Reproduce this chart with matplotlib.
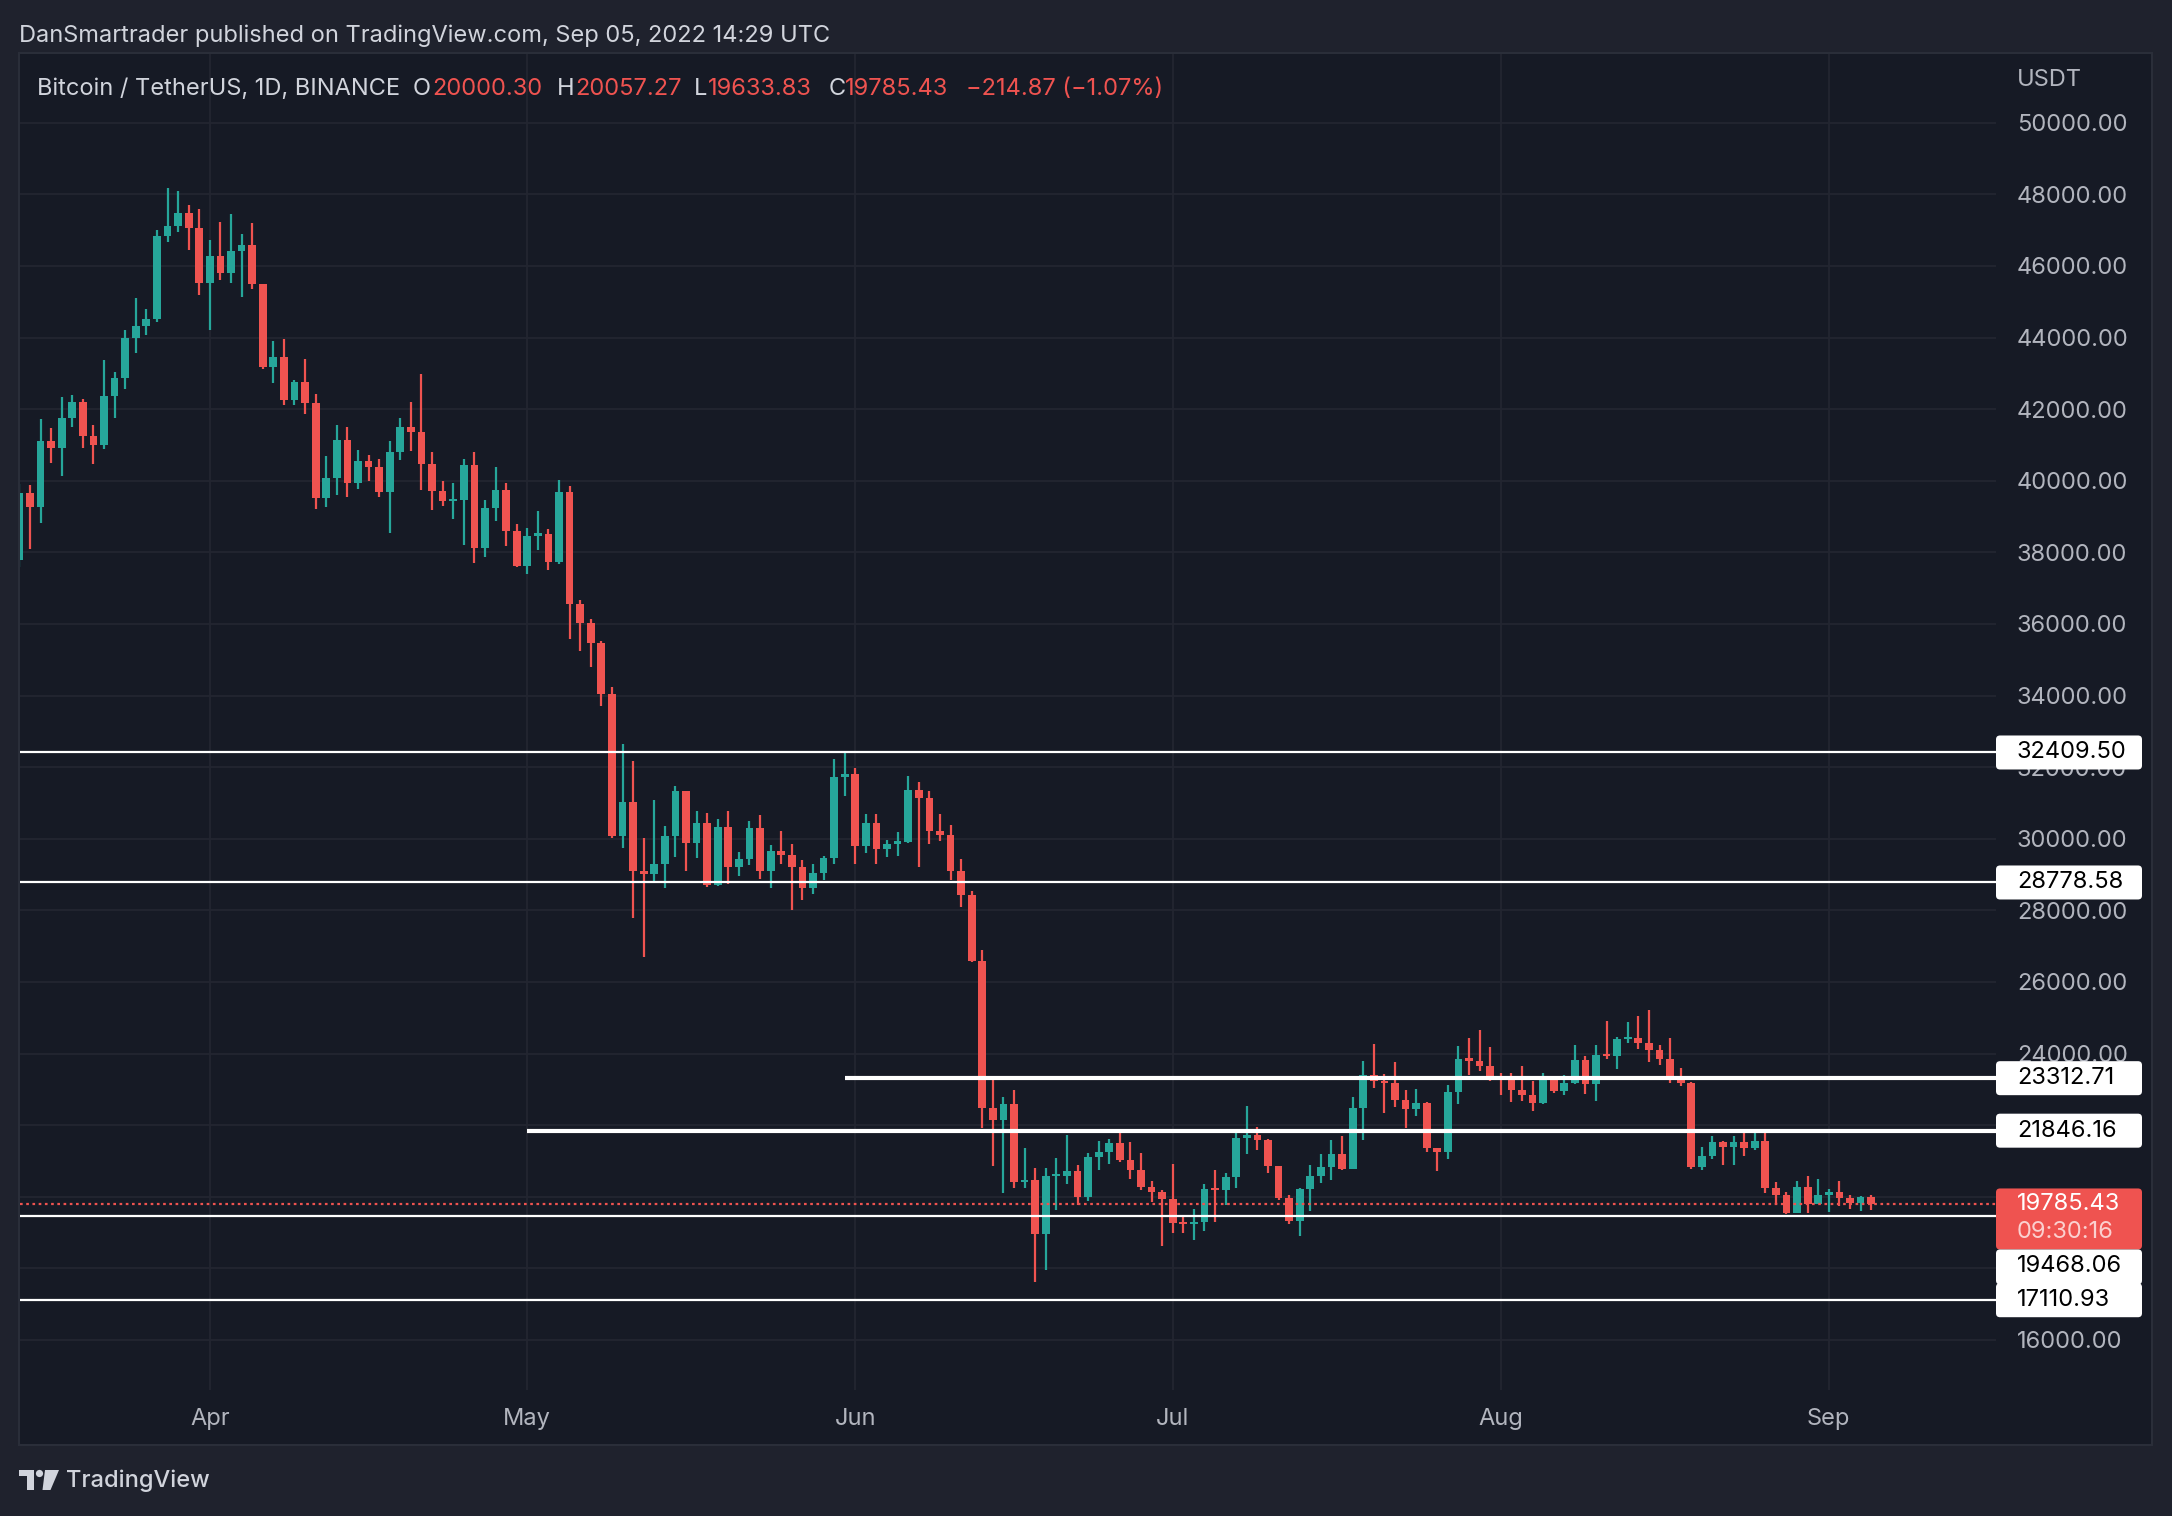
import numpy as np
import pandas as pd
import matplotlib
matplotlib.use('Agg')
import matplotlib.pyplot as plt
import matplotlib.dates as mdates
from matplotlib.patches import Rectangle, FancyBboxPatch, Polygon, Circle

plt.rcParams['font.family'] = ['Inter', 'DejaVu Sans']

# BTC/USDT daily candles, Binance, 2022-03-14 .. 2022-09-05
dates = pd.date_range('2022-03-14', '2022-09-05', freq='D')

first_open = 37777.0
closes = [
    # Mar 14-31
    39671, 39280, 41115, 40917, 41757, 42201, 41262, 41002, 42364, 42882, 43991, 44313, 44511, 46827, 47128, 47465, 47062, 45510,
    # Apr
    46283, 45811, 46407, 46580, 45497, 43170, 43444, 42252, 42753, 42158, 39530, 40074, 41147, 39942, 40552, 40378, 39678, 40801,
    41493, 41358, 40480, 39709, 39441, 39450, 40426, 38112, 39235, 39742, 38596, 37630,
    # May
    38468, 38525, 37729, 39690, 36552, 36013, 35472, 34038, 30076, 31017, 29103, 29029, 29287, 30086, 31329, 29874, 30444, 28715,
    30319, 29201, 29445, 30293, 29109, 29655, 29542, 29201, 28629, 29031, 29468, 31734, 31801,
    # Jun
    29805, 30452, 29700, 29864, 29920, 31373, 31125, 30205, 30110, 29091, 28425, 26575, 22487, 22136, 22584, 20401, 20468, 18970,
    20574, 20574, 20720, 19987, 21110, 21237, 21492, 21038, 20742, 20281, 20123, 19942,
    # Jul
    19279, 19243, 19297, 20231, 20190, 20548, 21637, 21731, 21592, 20862, 19970, 19329, 20212, 20569, 20836, 21190, 20779, 22485,
    23389, 23231, 23164, 22714, 22465, 22609, 21361, 21239, 22930, 23843, 23804, 23656, 23336,
    # Aug
    23314, 22978, 22846, 22630, 23289, 22961, 23175, 23810, 23149, 23954, 23934, 24403, 24441, 24305, 24094, 23854, 23342, 23191,
    20834, 21140, 21516, 21399, 21529, 21368, 21560, 20241, 20037, 19555, 20285, 19811, 20050,
    # Sep 1-5
    20127, 19952, 19832, 20000.30, 19785.43,
]
highs = [
    39914, 39887, 41718, 41478, 42325, 42400, 42296, 41544, 43361, 43025, 44220, 45094, 44792, 46999, 48189, 48096, 47700, 47600,
    46720, 47213, 47444, 46890, 47200, 45507, 43900, 43970, 42800, 43410, 42414, 40699, 41561, 41500, 40870, 40709, 40595, 41116,
    41760, 42199, 42976, 40795, 39980, 39940, 40617, 40797, 39474, 40372, 39925, 38795,
    38675, 39167, 38651, 40023, 39845, 36675, 36146, 35514, 34243, 32658, 32162, 30033, 31083, 30343, 31460, 31329, 30788, 30709,
    30545, 30777, 29625, 30487, 30670, 29835, 30223, 29850, 29396, 29300, 29530, 32222, 32399,
    31982, 30690, 30699, 29955, 30189, 31765, 31589, 31327, 30700, 30384, 29440, 28544, 26883, 23363, 22800, 22981, 21365, 20792,
    20815, 21090, 21723, 20900, 21233, 21558, 21614, 21868, 21539, 21212, 20432, 20179,
    20918, 19467, 19649, 20354, 20758, 20675, 21838, 22527, 21955, 21607, 20868, 20046, 20259, 20880, 21200, 21588, 21684, 22777,
    23800, 24276, 23440, 23757, 22977, 23014, 22660, 21361, 23112, 24199, 24442, 24668, 24194,
    23464, 23457, 23647, 23223, 23466, 23354, 23400, 24245, 23933, 24226, 24918, 24456, 24888, 25047, 25211, 24247, 24446, 23600,
    23203, 21382, 21700, 21548, 21684, 21900, 21819, 21886, 20402, 20142, 20433, 20580, 20490,
    20208, 20445, 20054, 20026, 20057.27,
]
lows = [
    37603, 38098, 38828, 40500, 40135, 41499, 40911, 40467, 40875, 41751, 42560, 43579, 44072, 44422, 46663, 46950, 46445, 45200,
    44200, 45620, 45530, 45118, 45353, 43121, 42727, 42107, 42125, 41868, 39200, 39254, 39588, 39551, 39766, 39991, 39546, 38536,
    40571, 40820, 39751, 39177, 39285, 38929, 38200, 37702, 37881, 38881, 38175, 37578,
    37386, 38052, 37517, 37670, 35571, 35258, 34785, 33713, 30033, 29731, 27785, 26700, 28751, 28630, 29480, 29087, 29450, 28654,
    28691, 28730, 28948, 29255, 28866, 28627, 29294, 28019, 28282, 28450, 28839, 29299, 31200,
    29301, 29594, 29282, 29485, 29531, 29890, 29218, 29843, 29944, 28850, 28099, 26560, 21925, 20846, 20111, 20232, 20246, 17622,
    17960, 19637, 20348, 19771, 19890, 20740, 20906, 20960, 20510, 20202, 19854, 18626,
    18975, 18977, 18781, 19055, 19305, 19761, 20257, 21189, 21320, 20655, 19901, 19239, 18910, 19616, 20384, 20478, 20751, 20763,
    21579, 23050, 22341, 22500, 21934, 22257, 21250, 20706, 21042, 22582, 23414, 23502, 23227,
    22850, 22654, 22681, 22400, 22586, 22909, 22844, 23154, 22865, 22664, 23852, 23580, 24291, 24138, 23773, 23671, 23180, 23108,
    20783, 20761, 21069, 20890, 20890, 21145, 21310, 20107, 19800, 19521, 19550, 19540, 19797,
    19565, 19754, 19655, 19600, 19633.83,
]
opens = [first_open] + closes[:-1]

# horizontal levels drawn by the author
levels = [32409.50, 28778.58, 23312.71, 21846.16, 19468.06, 17110.93]
level_start = [None, None, '2022-05-31', '2022-05-01', None, None]
level_thick = [False, False, True, True, False, False]

price_ticks = list(range(16000, 50001, 2000))
covered_ticks = [18000, 20000, 22000]   # hidden behind the price boxes
month_ticks = pd.date_range('2022-04-01', '2022-09-01', freq='MS')

UP, DOWN = '#26a69a', '#ef5350'
BG, FRAME, GRID = '#161a25', '#1f222d', '#232631'
TXT, TXT2 = '#b2b5be', '#d1d4dc'
FS = 17

W, H = 2172, 1516
fig = plt.figure(figsize=(W / 100, H / 100), dpi=100)
fig.patch.set_facecolor(FRAME)

# background panel
bg = fig.add_axes([0, 0, 1, 1], zorder=0)
bg.set_xlim(0, W)
bg.set_ylim(H, 0)
bg.axis('off')
bg.add_patch(Rectangle((19, 53), 2133, 1392, facecolor=BG, edgecolor='#2a2e39', lw=1.5))

ax = fig.add_axes([20 / W, 1 - 1390 / H, 1976 / W, 1336 / H], zorder=1)
ax.set_facecolor(BG)
for s in ax.spines.values():
    s.set_visible(False)

x = mdates.date2num(dates)
o = np.array(opens, float)
c = np.array(closes, float)
hi = np.array(highs, float)
lo = np.array(lows, float)
cols = np.where(c >= o, UP, DOWN)

ax.vlines(x, lo, hi, colors=cols, lw=1.6, zorder=2)
ax.bar(x, np.maximum(np.abs(c - o), 60), bottom=np.minimum(o, c), width=0.73,
       color=cols, linewidth=0, zorder=3)

apr1 = mdates.date2num(pd.Timestamp('2022-04-01'))
ax.set_xlim(apr1 - 17.94, apr1 + 168.8)
ax.set_ylim(14603, 51919)

# levels
for lv, st, thick in zip(levels, level_start, level_thick):
    lw = 3.0 if thick else 1.6
    if st is None:
        ax.axhline(lv, color='white', lw=lw, zorder=4)
    else:
        ax.hlines(lv, mdates.date2num(pd.Timestamp(st)), ax.get_xlim()[1], color='white', lw=lw, zorder=4)

ax.axhline(c[-1], color=DOWN, lw=1.6, ls=(0, (1.2, 1.6)), zorder=4)

# axes / grid
ax.set_yticks(price_ticks)
ax.yaxis.tick_right()
ax.yaxis.set_major_formatter(matplotlib.ticker.FuncFormatter(
    lambda v, p: '' if round(v) in covered_ticks else f'{v:.2f}'))
ax.tick_params(axis='y', length=0, pad=15, labelsize=FS, labelcolor=TXT)
ax.set_xticks(mdates.date2num(month_ticks))
ax.xaxis.set_major_formatter(mdates.DateFormatter('%b'))
ax.tick_params(axis='x', length=0, pad=13, labelsize=FS, labelcolor=TXT)
ax.grid(True, color=GRID, lw=1.3)
ax.set_axisbelow(True)

# overlay for labels and texts
ov = fig.add_axes([0, 0, 1, 1], zorder=5)
ov.set_xlim(0, W)
ov.set_ylim(H, 0)
ov.axis('off')
ov.patch.set_alpha(0)


def ypix(v):
    return H - ax.transData.transform((0, v))[1]


def price_box(top, height, face):
    ov.add_patch(FancyBboxPatch((1996, top), 146, height, boxstyle='round,pad=0,rounding_size=4',
                                facecolor=face, edgecolor='none'))


# level labels
for lv in [32409.50, 28778.58, 23312.71, 21846.16]:
    yp = ypix(lv)
    price_box(yp - 17, 34, 'white')
    ov.text(2017, yp, f'{lv:.2f}', fontsize=FS, color='black', va='center', ha='left')

yc = ypix(c[-1])
price_box(yc - 16, 61, DOWN)
ov.text(2017, yc, f'{c[-1]:.2f}', fontsize=FS, color='white', va='center')
ov.text(2017, yc + 28, '09:30:16', fontsize=FS, color='#fbd0cf', va='center')

y1 = yc + 45
price_box(y1, 35, 'white')
ov.text(2017, y1 + 17, f'{levels[4]:.2f}', fontsize=FS, color='black', va='center')
y2 = ypix(levels[5])
price_box(y2 - 17, 34, 'white')
ov.text(2017, y2, f'{levels[5]:.2f}', fontsize=FS, color='black', va='center')

ov.text(2017, 80, 'USDT', fontsize=FS, color=TXT, va='center')

# header
ov.text(19, 36, 'DanSmartrader published on TradingView.com, Sep 05, 2022 14:29 UTC',
        fontsize=FS, color=TXT2, va='center')

chg = c[-1] - c[-2]
pct = chg / c[-2] * 100
legend_parts = [
    (37, 'Bitcoin / TetherUS, 1D, BINANCE', TXT2),
    (413, 'O', TXT2), (432, f'{o[-1]:.2f}', DOWN),
    (557, 'H', TXT2), (575, f'{hi[-1]:.2f}', DOWN),
    (694, 'L', TXT2), (708, f'{lo[-1]:.2f}', DOWN),
    (829, 'C', TXT2), (845, f'{c[-1]:.2f}', DOWN),
    (966, f'{chg:.2f} ({pct:.2f}%)'.replace('-', '\u2212'), DOWN),
]
for px, s, col in legend_parts:
    ov.text(px, 89, s, fontsize=FS, color=col, va='center')

# TradingView logo
ov.add_patch(Rectangle((19, 1470), 15, 6, color=TXT2, lw=0))
ov.add_patch(Rectangle((27, 1470), 7, 20, color=TXT2, lw=0))
ov.add_patch(Circle((39.5, 1473.5), 3.6, color=TXT2, lw=0))
ov.add_patch(Polygon([(45, 1470), (59, 1470), (50.5, 1490), (42.5, 1490)], closed=True, color=TXT2, lw=0))
ov.text(66, 1481, 'TradingView', fontsize=17, color=TXT2, va='center', fontweight='medium')

plt.savefig('out.png', dpi=100, facecolor=fig.get_facecolor())
